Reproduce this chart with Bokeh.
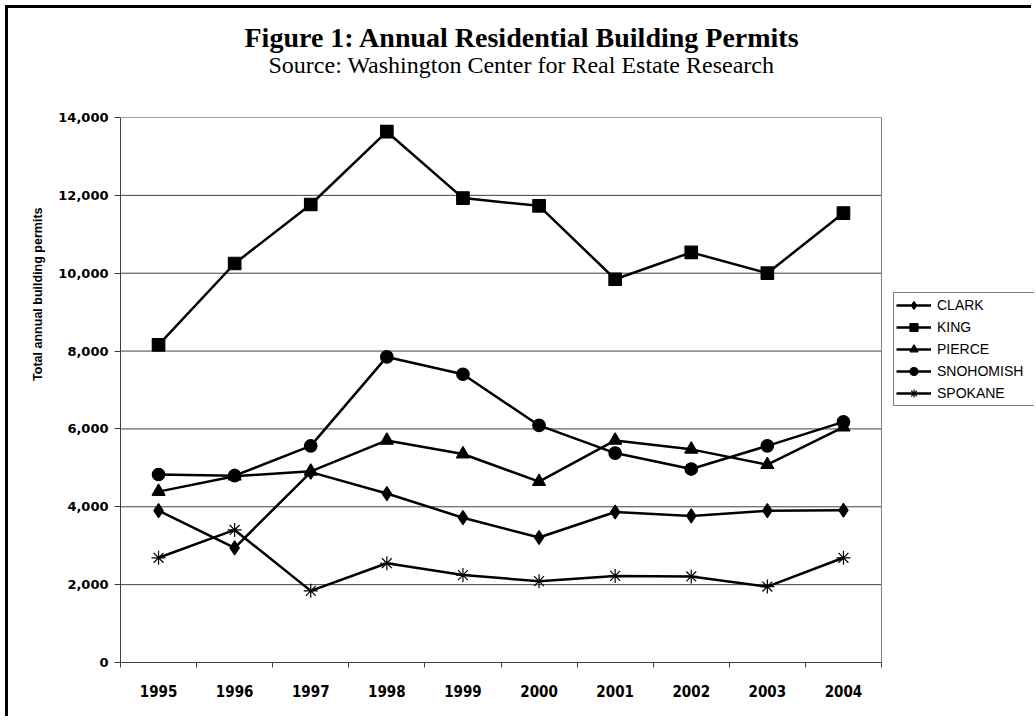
from bokeh.plotting import figure
from bokeh.models import (FixedTicker, NumeralTickFormatter, Legend, LegendItem, Range1d, Title)
from bokeh.embed import file_html
from bokeh.resources import INLINE

years = [1995, 1996, 1997, 1998, 1999, 2000, 2001, 2002, 2003, 2004]
clark = [3900, 2945, 4890, 4340, 3720, 3210, 3865, 3765, 3900, 3910]
king = [8160, 10250, 11765, 13635, 11930, 11730, 9845, 10535, 10000, 11545]
pierce = [4390, 4785, 4910, 5705, 5355, 4645, 5705, 5475, 5080, 6045]
snohomish = [4830, 4800, 5565, 7850, 7405, 6090, 5380, 4970, 5565, 6180]
spokane = [2690, 3405, 1840, 2550, 2245, 2090, 2225, 2210, 1950, 2690]
series_names = ["CLARK", "KING", "PIERCE", "SNOHOMISH", "SPOKANE"]
y_ticks = [0, 2000, 4000, 6000, 8000, 10000, 12000, 14000]

title_text = "Figure 1: Annual Residential Building Permits"
subtitle_text = "Source: Washington Center for Real Estate Research"
y_label = "Total annual building permits"

SANS = "'Liberation Sans', Arial, sans-serif"
DEJAVU = "'DejaVu Sans', sans-serif"
NARROW = "'Liberation Sans Narrow', 'DejaVu Sans Condensed', 'Liberation Sans', sans-serif"
SERIF = "'Liberation Serif', 'Times New Roman', serif"

# plot area spans the categories; the frame continues to the right edge to host the legend
FRAME_W = 914          # px from the y axis to the canvas edge
CAT_W = 76.1           # px per category
x_lo = years[0] - 0.5
x_hi = years[-1] + 0.5
x_view_hi = x_lo + FRAME_W / CAT_W

p = figure(width=1026, height=711, output_backend="svg", toolbar_location=None, title=None,
           x_range=Range1d(x_lo, x_view_hi),
           y_range=Range1d(y_ticks[0], y_ticks[-1]),
           min_border_left=112, min_border_right=0, min_border_top=109, min_border_bottom=57)
p.styles = {"margin-left": "5px", "margin-top": "5px",
            "border-left": "3px solid black", "border-top": "3px solid black"}

p.background_fill_color = "white"
p.border_fill_color = "white"
p.outline_line_color = None
p.xgrid.grid_line_color = None
p.ygrid.grid_line_color = None

# horizontal gridlines and right edge of the plot area
n = len(y_ticks)
p.segment(x0=[x_lo] * n, y0=y_ticks, x1=[x_hi] * n, y1=y_ticks,
          line_color="#404040", line_width=1)
p.segment(x0=[x_hi], y0=[y_ticks[0]], x1=[x_hi], y1=[y_ticks[-1]],
          line_color="#808080", line_width=1)

# x axis: labels at category centres, ticks between categories
xax = p.xaxis[0]
xax.bounds = (x_lo, x_hi)
xax.ticker = FixedTicker(ticks=years, minor_ticks=[y - 0.5 for y in years] + [x_hi])
xax.major_tick_line_color = None
xax.major_tick_out = 0
xax.major_tick_in = 0
xax.minor_tick_out = 5
xax.minor_tick_in = 0
xax.minor_tick_line_color = "#404040"
xax.axis_line_color = "#404040"
xax.major_label_standoff = 17
xax.major_label_text_font = NARROW
xax.major_label_text_font_style = "bold"
xax.major_label_text_font_size = "15px"
xax.major_label_text_color = "black"

yax = p.yaxis[0]
yax.ticker = FixedTicker(ticks=y_ticks, minor_ticks=[])
yax.formatter = NumeralTickFormatter(format="0,0")
yax.major_tick_out = 6
yax.major_tick_in = 0
yax.major_tick_line_color = "#404040"
yax.axis_line_color = "#404040"
yax.major_label_standoff = 6
yax.major_label_text_font = DEJAVU
yax.major_label_text_font_style = "bold"
yax.major_label_text_font_size = "13px"
yax.major_label_text_color = "black"

# y axis title, placed in the upper part of the axis as in the original
p.add_layout(Title(text=y_label, align="right", offset=90, text_font=SANS,
                   text_font_style="bold", text_font_size="12.5px", text_color="black",
                   standoff=22), "left")

data = [clark, king, pierce, snohomish, spokane]
markers = ["diamond", "square", "triangle", "circle", "asterisk"]
sizes = [14, 12.5, 13, 12.5, 14]
items = []
for name, vals, mk, sz in zip(series_names, data, markers, sizes):
    r1 = p.line(years, vals, line_color="black", line_width=2.5)
    r2 = p.scatter(years, vals, marker=mk, size=sz, fill_color="black",
                   line_color="black", line_width=1.2)
    items.append(LegendItem(label=name, renderers=[r1, r2]))

legend = Legend(items=items, location=(773, 256), orientation="vertical",
                label_text_font=SANS, label_text_font_size="14px", label_text_color="black",
                glyph_width=35, glyph_height=20, spacing=2, padding=2, margin=0,
                label_standoff=6, label_width=120, border_line_color="black",
                border_line_width=1, background_fill_color="white", background_fill_alpha=1.0)
p.add_layout(legend, "center")

# titles: spacer nearest the frame, then subtitle, then main title
p.add_layout(Title(text=" ", text_font_size="2px", standoff=35), "above")
p.add_layout(Title(text=subtitle_text, align="left", offset=148, text_font=SERIF,
                   text_font_style="normal", text_font_size="24px", text_color="black",
                   standoff=2), "above")
p.add_layout(Title(text=title_text, align="left", offset=124, text_font=SERIF,
                   text_font_style="bold", text_font_size="28px", text_color="black",
                   standoff=-8), "above")

open("out.html", "w").write(file_html(p, INLINE))
